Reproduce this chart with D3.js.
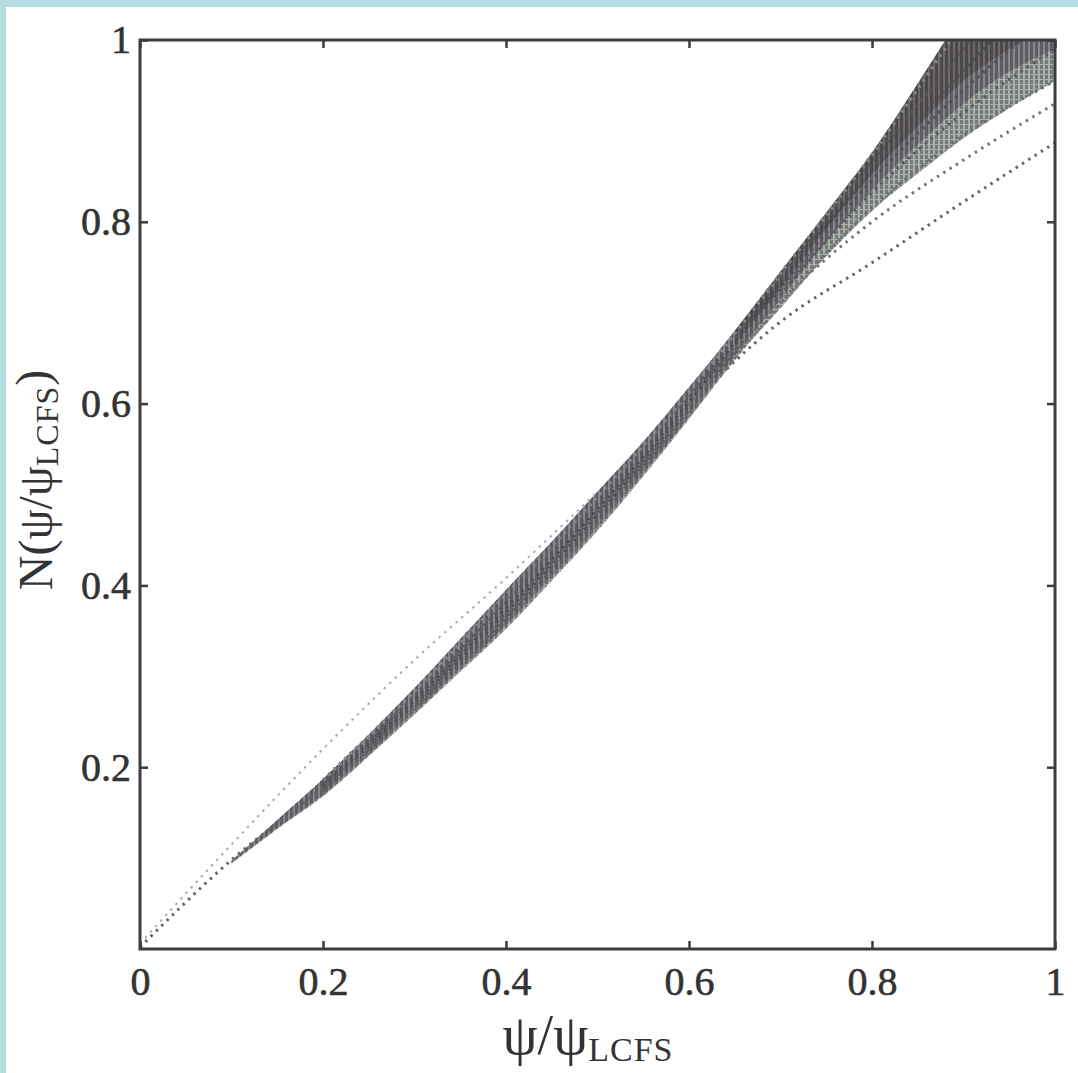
<!DOCTYPE html>
<html>
<head>
<meta charset="utf-8">
<script src="https://cdn.jsdelivr.net/npm/d3@7"></script>
<style>
  body { margin: 0; background: #fff; }
  svg { display: block; }
</style>
</head>
<body>
<div id="chart"></div>
<script>
// tick values and labels
const xTicks = [0, 0.2, 0.4, 0.6, 0.8, 1];
const xTickLabels = ["0", "0.2", "0.4", "0.6", "0.8", "1"];
const yTicks = [0.2, 0.4, 0.6, 0.8, 1];
const yTickLabels = ["0.2", "0.4", "0.6", "0.8", "1"];

// grid for the envelope of the dense bundle (step 0.05)
const bandX = [0, 0.05, 0.1, 0.15, 0.2, 0.25, 0.3, 0.35, 0.4, 0.45, 0.5,
  0.55, 0.6, 0.65, 0.7, 0.75, 0.8, 0.85, 0.9, 0.95, 1];
const bandLower = [null, null, 0.094, 0.132, 0.168, 0.212, 0.258, 0.305, 0.352, 0.405, 0.46,
  0.52, 0.583, 0.648, 0.705, 0.762, 0.812, 0.853, 0.892, 0.925, 0.955];
const coreLower = [null, null, 0.095, 0.133, 0.17, 0.215, 0.261, 0.308, 0.356, 0.409, 0.464,
  0.523, 0.586, 0.652, 0.715, 0.778, 0.835, 0.885, 0.93, 0.965, 0.99];
const darkLower = [null, null, null, null, null, null, null, null, null, null, null,
  null, null, 0.664, 0.728, 0.792, 0.852, 0.905, 0.955, 0.99, 1.02];
const bandUpper = [null, null, 0.097, 0.142, 0.187, 0.236, 0.287, 0.341, 0.395, 0.448, 0.503,
  0.558, 0.618, 0.68, 0.745, 0.81, 0.876, 0.952, 1.03, 1.1, 1.17];

// individual profiles (step 0.1)
const lineX = [0, 0.1, 0.2, 0.3, 0.4, 0.5, 0.6, 0.7, 0.8, 0.9, 1];
const strand1 = [null, null, 0.17, 0.262, 0.358, 0.466, 0.588, 0.71, 0.815, 0.895, 0.955];
const strand2 = [null, null, 0.174, 0.266, 0.364, 0.472, 0.593, 0.72, 0.832, 0.92, 0.99];
const strand3 = [null, null, 0.177, 0.27, 0.37, 0.478, 0.598, 0.727, 0.846, 0.945, 1.03];
const strand4 = [null, null, 0.18, 0.274, 0.375, 0.484, 0.602, 0.733, 0.857, 0.967, 1.07];
const strand5 = [null, null, 0.183, 0.278, 0.381, 0.49, 0.607, 0.739, 0.866, 0.99, 1.11];
const strand6 = [null, null, 0.186, 0.284, 0.39, 0.498, 0.613, 0.743, 0.874, 1.02, 1.16];
const outlier1 = [null, null, null, null, null, null, 0.598, 0.69, 0.755, 0.822, 0.887];
const outlier2 = [null, null, null, null, null, null, 0.6, 0.713, 0.8, 0.868, 0.93];
const lowLeft = [0.002, 0.098, 0.178, 0.266, null, null, null, null, null, null, null];
const highLeft = [0.006, 0.115, 0.22, 0.318, 0.408, 0.503, null, null, null, null, null];

// layout
const W = 1078, H = 1073;
const mLeft = 140, mTop = 40, pw = 915, ph = 909;

const svg = d3.select("#chart").append("svg")
  .attr("width", W)
  .attr("height", H);

// light blue frame of the scanned figure
svg.append("rect").attr("x", 0).attr("y", 0).attr("width", W).attr("height", 7).attr("fill", "#b5dde1");
svg.append("rect").attr("x", 0).attr("y", 0).attr("width", 6).attr("height", H).attr("fill", "#b5dde1");

const x = d3.scaleLinear().domain([0, 1]).range([0, pw]);
const y = d3.scaleLinear().domain([0, 1]).range([ph, 0]);

const defs = svg.append("defs");
defs.append("clipPath").attr("id", "plotclip")
  .append("rect").attr("width", pw).attr("height", ph);

// column texture like the sampled markers
function stripes(id, bg, fg, h) {
  const p = defs.append("pattern").attr("id", id)
    .attr("patternUnits", "userSpaceOnUse").attr("width", 5).attr("height", 5);
  p.append("rect").attr("width", 5).attr("height", 5).attr("fill", bg);
  p.append("rect").attr("width", 3).attr("height", h).attr("fill", fg);
}
stripes("bandfill", "#aab0ab", "#757a76", 4);
stripes("corefill", "#8a868d", "#5e5b62", 5);
stripes("darkfill", "#6e6a6c", "#4a4849", 5);

const g = svg.append("g").attr("transform", `translate(${mLeft},${mTop})`);
const plot = g.append("g").attr("clip-path", "url(#plotclip)");

// envelope areas
const bandData = bandX.map((v, i) => ({
  x: v, lo: bandLower[i], mid: coreLower[i], dk: darkLower[i], hi: bandUpper[i]
}));

function envelope(key) {
  return d3.area()
    .defined(d => d[key] != null)
    .x(d => x(d.x))
    .y0(d => y(d[key]))
    .y1(d => y(d.hi))
    .curve(d3.curveMonotoneX);
}

plot.append("path").datum(bandData).attr("d", envelope("lo")).attr("fill", "url(#bandfill)");
plot.append("path").datum(bandData).attr("d", envelope("mid")).attr("fill", "url(#corefill)");
plot.append("path").datum(bandData).attr("d", envelope("dk")).attr("fill", "url(#darkfill)");

// dotted profiles
const line = d3.line()
  .defined(d => d[1] != null)
  .x(d => x(d[0]))
  .y(d => y(d[1]))
  .curve(d3.curveMonotoneX);

const profiles = [
  { v: strand1, c: "#6d716e", w: 3 },
  { v: strand2, c: "#5a5a5e", w: 3 },
  { v: strand3, c: "#525055", w: 3 },
  { v: strand4, c: "#4e4c50", w: 3 },
  { v: strand5, c: "#58565a", w: 3 },
  { v: strand6, c: "#8a8690", w: 3.5 },
  { v: outlier1, c: "#666", w: 3 },
  { v: outlier2, c: "#777", w: 3 },
  { v: lowLeft, c: "#666", w: 3 },
  { v: highLeft, c: "#aaa", w: 2 }
];

profiles.forEach(p => {
  plot.append("path")
    .datum(lineX.map((v, i) => [v, p.v[i]]))
    .attr("d", line)
    .attr("fill", "none")
    .attr("stroke", p.c)
    .attr("stroke-width", p.w)
    .attr("stroke-dasharray", "2.5,5");
});

// axes
const tickFont = "'Liberation Serif', 'Times New Roman', serif";

const xAxis = d3.axisBottom(x).tickValues(xTicks)
  .tickFormat((d, i) => xTickLabels[i]).tickSize(-8).tickPadding(18);
const yAxis = d3.axisLeft(y).tickValues(yTicks)
  .tickFormat((d, i) => yTickLabels[i]).tickSize(-8).tickPadding(9);

g.append("g").attr("transform", `translate(0,${ph})`).call(xAxis);
g.append("g").call(yAxis);
g.append("g").call(d3.axisTop(x).tickValues(xTicks).tickFormat("").tickSize(-8));
g.append("g").attr("transform", `translate(${pw},0)`)
  .call(d3.axisRight(y).tickValues(yTicks).tickFormat("").tickSize(-8));

g.selectAll(".domain").remove();
g.selectAll(".tick line").attr("stroke", "#3a3a3a").attr("stroke-width", 2.5);
g.selectAll(".tick text")
  .attr("fill", "#333")
  .attr("stroke", "#333")
  .attr("stroke-width", 0.6)
  .style("font-family", tickFont)
  .style("font-size", "40px");

// frame
g.append("rect")
  .attr("width", pw).attr("height", ph)
  .attr("fill", "none")
  .attr("stroke", "#3d3d40")
  .attr("stroke-width", 3);

// axis labels
const xl = svg.append("text")
  .attr("x", 588)
  .attr("y", 1054)
  .attr("text-anchor", "middle")
  .attr("fill", "#333")
  .style("font-family", tickFont)
  .style("font-size", "56px");
xl.append("tspan").text("ψ/ψ");
xl.append("tspan").attr("dy", "0.2em").style("font-size", "34px").style("letter-spacing", "1px").text("LCFS");

const yl = svg.append("text")
  .attr("transform", "translate(52,480) rotate(-90)")
  .attr("text-anchor", "middle")
  .attr("fill", "#333")
  .style("font-family", tickFont)
  .style("font-size", "48px");
yl.append("tspan").text("N(ψ/ψ");
yl.append("tspan").attr("dy", "0.2em").style("font-size", "32px").style("letter-spacing", "1px").text("LCFS");
yl.append("tspan").attr("dy", "-0.2em").text(")");
</script>
</body>
</html>
